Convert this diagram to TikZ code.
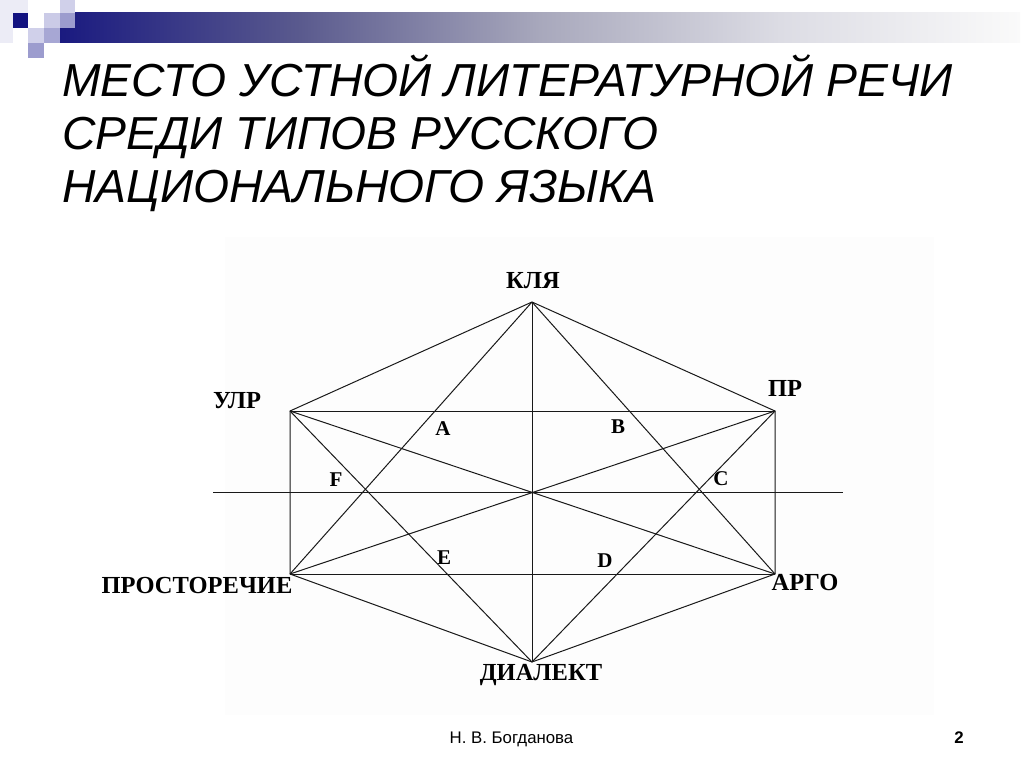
\documentclass[tikz,border=0pt]{standalone}
\usepackage{fontspec}
\setmainfont{Liberation Sans}
\newfontfamily\lserif{Liberation Serif}
\definecolor{navy}{RGB}{18,18,128}
\definecolor{sqvl}{RGB}{236,236,246}
\definecolor{sqlt}{RGB}{208,208,234}
\definecolor{sqmd}{RGB}{156,156,206}
\definecolor{gA}{RGB}{26,26,128}
\definecolor{gB}{RGB}{90,90,142}
\definecolor{gC}{RGB}{168,168,188}
\definecolor{gD}{RGB}{220,220,228}
\definecolor{gE}{RGB}{250,250,250}
\definecolor{diagbg}{RGB}{253,253,253}
\definecolor{lineclr}{RGB}{25,25,25}
\tikzset{
  edge/.style={draw=lineclr, line width=1pt},
  vlab/.style={inner sep=0pt, anchor=base, font=\lserif\bfseries\fontsize{24.5}{24.5}\selectfont},
  plab/.style={inner sep=0pt, anchor=base, font=\lserif\bfseries\fontsize{21}{21}\selectfont},
  ttl/.style={inner sep=0pt, anchor=base west, font=\itshape\fontsize{46.3}{46.3}\selectfont},
  foot/.style={inner sep=0pt, anchor=base, font=\fontsize{16.8}{16.8}\selectfont}
}
\begin{document}
\begin{tikzpicture}[x=1pt,y=-1pt]
\useasboundingbox (0,0) rectangle (1024,767);
\fill[white] (0,0) rectangle (1024,767);
% header bar
\shade[left color=gA, right color=gB] (60,13) rectangle (300,43);
\shade[left color=gB, right color=gC] (299.5,13) rectangle (540,43);
\shade[left color=gC, right color=gD] (539.5,13) rectangle (780,43);
\shade[left color=gD, right color=gE] (779.5,13) rectangle (1020,43);
% squares
\fill[sqvl] (0,0) rectangle (13,43);
\fill[sqvl] (13,0) rectangle (28,13);
\fill[navy] (13,13) rectangle (28,28);
\fill[sqlt] (28,28) rectangle (44,43);
\fill[sqmd] (28,43) rectangle (44,58);
\fill[sqlt!90!sqmd] (44,13) rectangle (60,28);
\fill[sqmd!80!sqlt] (44,28) rectangle (60,43);
\fill[sqlt] (60,0) rectangle (75,13);
\fill[sqmd] (60,13) rectangle (75,28);
% title
\node[ttl] (t1) at (62,97) {МЕСТО УСТНОЙ ЛИТЕРАТУРНОЙ РЕЧИ};
\node[ttl] (t2) at (62,150) {СРЕДИ ТИПОВ РУССКОГО};
\node[ttl] (t3) at (62,203) {НАЦИОНАЛЬНОГО ЯЗЫКА};
% diagram background
\fill[diagbg] (225,237) rectangle (934,715);
% vertices
\coordinate (K) at (532,302);
\coordinate (U) at (290,411);
\coordinate (P) at (775,411);
\coordinate (S) at (290,574);
\coordinate (R) at (775,574);
\coordinate (D) at (532,662);
\coordinate (hl) at (213,492);
\coordinate (hr) at (843,492);
% hexagon
\draw[edge] (K) -- (U) -- (S) -- (D) -- (R) -- (P) -- (K);
% horizontals and vertical
\draw[edge] (U) -- (P);
\draw[edge] (S) -- (R);
\draw[edge] (K) -- (D);
\draw[edge] (hl) -- (hr);
% diagonals
\draw[edge] (U) -- (R);
\draw[edge] (P) -- (S);
\draw[edge] (K) -- (S);
\draw[edge] (K) -- (R);
\draw[edge] (D) -- (U);
\draw[edge] (D) -- (P);
% vertex labels
\node[vlab] (lK) at (533,288) {КЛЯ};
\node[vlab] (lU) at (237,408) {УЛР};
\node[vlab] (lP) at (785,396) {ПР};
\node[vlab] (lS) at (197,593) {ПРОСТОРЕЧИЕ};
\node[vlab] (lR) at (805,590) {АРГО};
\node[vlab] (lD) at (541,680) {ДИАЛЕКТ};
% point labels
\node[plab] (pA) at (443,435) {A};
\node[plab] (pB) at (618,433) {B};
\node[plab] (pC) at (721,485) {C};
\node[plab] (pD) at (605,567) {D};
\node[plab] (pE) at (444,564) {E};
\node[plab] (pF) at (336,486) {F};
% footer
\node[foot] (f1) at (511.5,743) {Н. В. Богданова};
\node[foot, font=\bfseries\fontsize{16.8}{16.8}\selectfont] (f2) at (959,743) {2};
\end{tikzpicture}
\end{document}
